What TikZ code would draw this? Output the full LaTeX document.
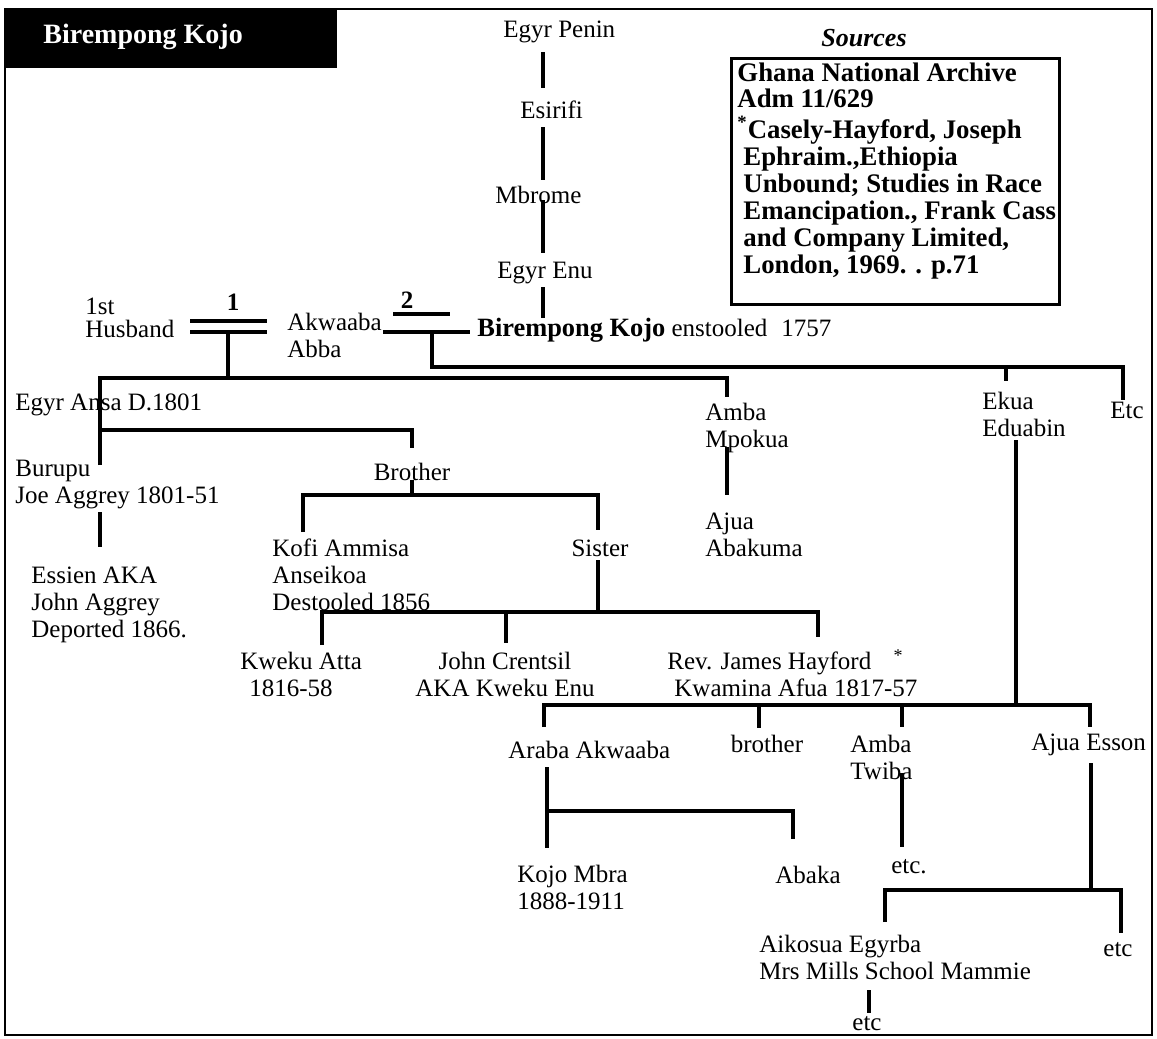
\documentclass[tikz,border=0pt]{standalone}
\usepackage{fontspec}
\setmainfont{Liberation Serif}
\usepackage{tikz}

\newcommand{\kinfont}{\fontsize{12.5}{13.5}\selectfont}
\newcommand{\srcfont}{\fontsize{13.4}{13.5}\selectfont\bfseries}

\tikzset{
  kin/.style={inner sep=0pt, anchor=west, align=left, font=\kinfont},
  kinc/.style={kin, anchor=center, align=center},
  bar/.style={line width=1.6pt},
}

\begin{document}
\begin{tikzpicture}[x=0.5pt,y=-0.5pt]
        \useasboundingbox (0,0) rectangle (1157,1039);
        \draw[line width=1pt] (5,9) rectangle (1152,1035);
        \fill (5,9) rectangle (337,68);
        \node[kin, text=white, font=\fontsize{14}{14}\selectfont\bfseries] (title) at (43,37) {Birempong Kojo};

        % sources
        \node[kinc, font=\fontsize{13}{13}\selectfont\bfseries\itshape] (srchead) at (864,38) {Sources};
        \node[draw, line width=1.3pt, inner sep=0pt, minimum width=164pt, minimum height=123pt, anchor=north west] (srcbox) at (730,57) {};
        \node[inner sep=0pt, anchor=north west, align=left, font=\srcfont] (srctext) at (737,62) {Ghana National Archive\\
        Adm 11/629\\[2pt]
        \textsuperscript{*}Casely-Hayford, Joseph\\
        \hspace*{3pt}Ephraim.,Ethiopia\\
        \hspace*{3pt}Unbound; Studies in Race\\
        \hspace*{3pt}Emancipation., Frank Cass\\
        \hspace*{3pt}and Company Limited,\\
        \hspace*{3pt}London, 1969. . p.71};

        % people
        \node[kin] (penin) at (503,32) {Egyr Penin};
        \node[kin] (esirifi) at (520,110) {Esirifi};
        \node[kin] (mbrome) at (495,195) {Mbrome};
        \node[kin] (enu) at (497,273) {Egyr Enu};
        \node[kin, font=\fontsize{12.5}{11.5}\selectfont] (husband) at (85,318) {1st\\Husband};
        \node[kinc, font=\kinfont\bfseries] (one) at (233,302) {1};
        \node[kin] (akwaaba) at (287,335) {Akwaaba\\Abba};
        \node[kinc, font=\kinfont\bfseries] (two) at (407,300) {2};
        \node[kin] (birempong) at (477,330) {{\fontsize{13.2}{13.5}\selectfont\bfseries Birempong Kojo} enstooled\hspace{7pt}1757};
        \node[kin] (ansa) at (15,405) {Egyr Ansa D.1801};
        \node[kin] (mpokua) at (705,428) {Amba\\Mpokua};
        \node[kin] (eduabin) at (982,414) {Ekua\\Eduabin};
        \node[kin] (etca) at (1110,410) {Etc};
        \node[kin] (burupu) at (15,485) {Burupu\\Joe Aggrey 1801-51};
        \node[kinc] (brother) at (412,472) {Brother};
        \node[kin] (essien) at (31,605) {Essien AKA\\John Aggrey\\Deported 1866.};
        \node[kin] (kofi) at (272,575) {Kofi Ammisa\\Anseikoa\\Destooled 1856};
        \node[kinc] (sister) at (600,548) {Sister};
        \node[kin] (abakuma) at (705,535) {Ajua\\Abakuma};
        \node[kin] (atta) at (240,674) {Kweku Atta\\\hspace*{4.5pt}1816-58};
        \node[kinc] (crentsil) at (505,674) {John Crentsil\\AKA Kweku Enu};
        \node[kin] (hayford) at (667,674) {Rev. James Hayford\\\hspace*{3.5pt}Kwamina Afua 1817-57};
        \node[kinc, font=\fontsize{9}{9}\selectfont] (star) at (898,656) {*};
        \node[kin] (araba) at (508,750) {Araba Akwaaba};
        \node[kinc] (brotherb) at (767,744) {brother};
        \node[kin] (twiba) at (850,757) {Amba\\Twiba};
        \node[kin] (esson) at (1031,745) {Ajua Esson};
        \node[kin] (mbra) at (517,887) {Kojo Mbra\\1888-1911};
        \node[kinc] (abaka) at (808,875) {Abaka};
        \node[kinc] (etcb) at (909,867) {etc.};
        \node[kin] (aikosua) at (759,957) {Aikosua Egyrba\\Mrs Mills School Mammie};
        \node[kinc] (etcc) at (1118,950) {etc};
        \node[kinc] (etcd) at (867,1024) {etc};

        % line points
        \coordinate (p1) at (543,52);
        \coordinate (p2) at (543,88);
        \coordinate (p3) at (543,127);
        \coordinate (p4) at (543,180);
        \coordinate (p5) at (543,200);
        \coordinate (p6) at (543,253);
        \coordinate (p7) at (543,287);
        \coordinate (p8) at (543,318);
        \coordinate (m1a) at (190,321);
        \coordinate (m1b) at (267,321);
        \coordinate (m1c) at (190,332);
        \coordinate (m1d) at (267,332);
        \coordinate (u1) at (228,332);
        \coordinate (j1) at (228,378);
        \coordinate (m2a) at (393,314);
        \coordinate (m2b) at (450,314);
        \coordinate (m2c) at (383,332);
        \coordinate (m2d) at (470,332);
        \coordinate (u2) at (432,332);
        \coordinate (j2) at (432,367);
        \coordinate (e1) at (1123,367);
        \coordinate (e2) at (1123,400);
        \coordinate (e3) at (1006,367);
        \coordinate (e4) at (1006,381);
        \coordinate (a1) at (100,378);
        \coordinate (a2) at (727,378);
        \coordinate (a3) at (100,465);
        \coordinate (a4) at (727,397);
        \coordinate (b1) at (100,430);
        \coordinate (b2) at (412,430);
        \coordinate (b3) at (412,448);
        \coordinate (c1) at (100,512);
        \coordinate (c2) at (100,547);
        \coordinate (d1) at (412,480);
        \coordinate (d2) at (412,495);
        \coordinate (d3) at (303,495);
        \coordinate (d4) at (303,532);
        \coordinate (d5) at (598,495);
        \coordinate (d6) at (598,530);
        \coordinate (f1) at (727,447);
        \coordinate (f2) at (727,495);
        \coordinate (g1) at (598,560);
        \coordinate (g2) at (598,612);
        \coordinate (g3) at (322,612);
        \coordinate (g4) at (322,645);
        \coordinate (g5) at (506,612);
        \coordinate (g6) at (506,643);
        \coordinate (g7) at (818,612);
        \coordinate (g8) at (818,637);
        \coordinate (h1) at (1016,440);
        \coordinate (h2) at (1016,705);
        \coordinate (h3) at (544,705);
        \coordinate (h4) at (544,727);
        \coordinate (h5) at (759,705);
        \coordinate (h6) at (759,728);
        \coordinate (h7) at (902,705);
        \coordinate (h8) at (902,727);
        \coordinate (h9) at (1090,705);
        \coordinate (h10) at (1090,727);
        \coordinate (i1) at (547,767);
        \coordinate (i2) at (547,848);
        \coordinate (i3) at (547,811);
        \coordinate (i4) at (793,811);
        \coordinate (i5) at (793,839);
        \coordinate (t1) at (902,773);
        \coordinate (t2) at (902,847);
        \coordinate (q1) at (1091,763);
        \coordinate (q2) at (1091,890);
        \coordinate (q3) at (885,890);
        \coordinate (q4) at (885,922);
        \coordinate (q5) at (1121,890);
        \coordinate (q6) at (1121,933);
        \coordinate (r1) at (869,990);
        \coordinate (r2) at (869,1013);

        % lines
        \draw[bar] (p1) -- (p2);
        \draw[bar] (p3) -- (p4);
        \draw[bar] (p5) -- (p6);
        \draw[bar] (p7) -- (p8);
        \draw[bar] (m1a) -- (m1b);
        \draw[bar] (m1c) -- (m1d);
        \draw[bar] (u1) -- (j1);
        \draw[bar] (m2a) -- (m2b);
        \draw[bar] (m2c) -- (m2d);
        \draw[bar] (u2) -- (j2) -- (e1) -- (e2);
        \draw[bar] (e3) -- (e4);
        \draw[bar] (a3) -- (a1) -- (a2) -- (a4);
        \draw[bar] (b1) -- (b2) -- (b3);
        \draw[bar] (c1) -- (c2);
        \draw[bar] (d1) -- (d2);
        \draw[bar] (d4) -- (d3) -- (d5) -- (d6);
        \draw[bar] (f1) -- (f2);
        \draw[bar] (g1) -- (g2);
        \draw[bar] (g4) -- (g3) -- (g7) -- (g8);
        \draw[bar] (g5) -- (g6);
        \draw[bar] (h1) -- (h2);
        \draw[bar] (h4) -- (h3) -- (h9) -- (h10);
        \draw[bar] (h5) -- (h6);
        \draw[bar] (h7) -- (h8);
        \draw[bar] (i1) -- (i2);
        \draw[bar] (i3) -- (i4) -- (i5);
        \draw[bar] (t1) -- (t2);
        \draw[bar] (q1) -- (q2);
        \draw[bar] (q4) -- (q3) -- (q5) -- (q6);
        \draw[bar] (r1) -- (r2);
\end{tikzpicture}
\end{document}
